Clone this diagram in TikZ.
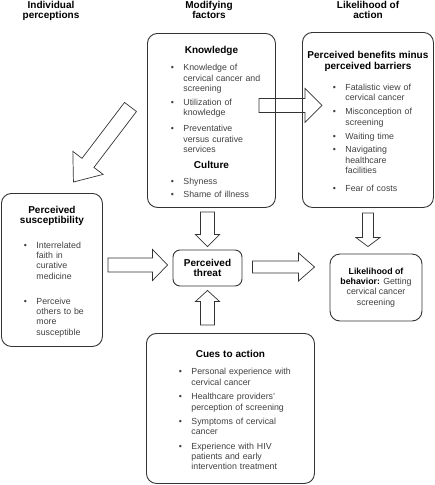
\documentclass[tikz,border=0pt]{standalone}
\usepackage{fontspec}
\setmainfont{Liberation Sans}
\usetikzlibrary{calc,positioning}

\definecolor{linegray}{gray}{0.2}
\definecolor{bodygray}{gray}{0.25}

\newlength\bulletin
\newcommand{\bodyfont}{\fontsize{8.8}{10.3}\selectfont}
% bold title inside a box, optional space above
\newcommand{\boxtitle}[2][0pt]{\par\vspace{#1}{\centering\fontsize{10}{10.5}\selectfont\bfseries\color{black}#2\par}}
% bullet item, optional space above
\newcommand{\bitem}[2][4pt]{\par\vspace{#1}{\raggedright\leftskip=\bulletin\noindent\llap{\textbullet\hspace{9.5pt}}#2\par}}
% hollow block arrow: tail, tip, half shaft, half head, head length
\newcommand{\blockarrow}[5]{%
  \coordinate (hb) at ($(#2)!#5!(#1)$);
  \draw[fatline] ($(#1)!#3!90:(#2)$) -- ($(hb)!#3!90:(#2)$) -- ($(hb)!#4!90:(#2)$) -- (#2)
    -- ($(hb)!#4!-90:(#2)$) -- ($(hb)!#3!-90:(#2)$) -- ($(#1)!#3!-90:(#2)$) -- cycle;}

\begin{document}
\begin{tikzpicture}[x=1pt,y=-1pt,
  box/.style={draw=linegray, line width=0.9pt, rounded corners=10pt, inner sep=0pt, anchor=north west, text=bodygray, font=\bodyfont},
  colhead/.style={font=\fontsize{10}{10}\selectfont\bfseries, align=center, anchor=north, inner sep=0pt},
  fatline/.style={draw=linegray, line width=0.7pt, line join=miter}]
\useasboundingbox (0,0) rectangle (435,485);

% column headings
\node[colhead] (indiv) at (51,1) {Individual\\perceptions};
\node[colhead] (modif) at (209,1) {Modifying\\factors};
\node[colhead] (likeli) at (368,1) {Likelihood of\\action};

% boxes
\node[box, text width=128pt, minimum height=174pt] (know) at (147,33) {\setlength\bulletin{36pt}%
  \boxtitle{Knowledge}
  \bitem[7pt]{Knowledge of\\cervical cancer and\\screening}
  \bitem{Utilization of\\knowledge}
  \bitem[5.5pt]{Preventative\\versus curative\\services}
  \boxtitle[5.5pt]{Culture}
  \bitem[6pt]{Shyness}
  \bitem[3pt]{Shame of illness}};

\node[box, text width=131pt, minimum height=175pt] (ben) at (302,32) {\setlength\bulletin{43pt}%
  \boxtitle{Perceived benefits minus\\perceived barriers}
  \bitem[11pt]{Fatalistic view of\\cervical cancer}
  \bitem{Misconception of\\screening}
  \bitem[4pt]{Waiting time}
  \bitem[3pt]{Navigating\\healthcare\\facilities}
  \bitem[8pt]{Fear of costs}};

\node[box, text width=101pt, minimum height=153pt] (susc) at (1,193) {\setlength\bulletin{35pt}%
  \boxtitle{Perceived\\susceptibility}
  \bitem[14pt]{Interrelated\\faith in\\curative\\medicine}
  \bitem[15pt]{Perceive\\others to be\\more\\susceptible}};

\node[box, text width=168pt, minimum height=150pt] (cues) at (146,333) {\setlength\bulletin{45pt}%
  \boxtitle{Cues to action}
  \bitem[7pt]{Personal experience with\\cervical cancer}
  \bitem[4.5pt]{Healthcare providers'\\perception of screening}
  \bitem[4pt]{Symptoms of cervical\\cancer}
  \bitem[4pt]{Experience with HIV\\patients and early\\intervention treatment}};

\node[box, anchor=center, rounded corners=7pt, minimum width=69pt, minimum height=36pt, align=center, text=black,
  font=\fontsize{10}{10.5}\selectfont\bfseries] (threat) at (207.5,268) {Perceived\\threat};

\node[box, anchor=center, minimum width=92pt, minimum height=67pt, align=center] (like) at (376,287.5)
  {\textbf{\color{black}Likelihood of}\\\textbf{\color{black}behavior:} Getting\\cervical cancer\\screening};

% arrow ends
\coordinate (k1) at ($(know.south -| threat.north)+(0,4)$);
\coordinate (k2) at ($(threat.north)+(0,-3)$);
\coordinate (c1) at ($(threat.south |- cues.north)+(0,-8)$);
\coordinate (c2) at ($(threat.south)+(0,4)$);
\coordinate (s1) at ($(susc.east |- threat.west)+(5,-3)$);
\coordinate (s2) at ($(threat.west)+(-5,-3)$);
\coordinate (t1) at ($(threat.east)+(10,-1)$);
\coordinate (t2) at ($(threat.east -| like.west)+(-15,-1)$);
\coordinate (b1) at ($(ben.south)+(0,5)$);
\coordinate (b2) at ($(ben.south |- like.north)+(0,-7)$);
\coordinate (m1) at ($(know.east)+(-17,-15)$);
\coordinate (m2) at ($(ben.west)+(20,-14.5)$);
\coordinate (d1) at ($(know.west)+(-16.5,-13.5)$);
\coordinate (d2) at ($(susc.north)+(21.5,-11)$);

% block arrows
\blockarrow{k1}{k2}{7pt}{12pt}{12pt}
\blockarrow{c1}{c2}{7pt}{12pt}{11pt}
\blockarrow{s1}{s2}{7pt}{15.5pt}{15pt}
\blockarrow{t1}{t2}{6pt}{14pt}{16pt}
\blockarrow{b1}{b2}{5.5pt}{12pt}{9pt}
\blockarrow{m1}{m2}{7pt}{17pt}{17pt}
\blockarrow{d1}{d2}{7.5pt}{19pt}{24pt}
\end{tikzpicture}
\end{document}
